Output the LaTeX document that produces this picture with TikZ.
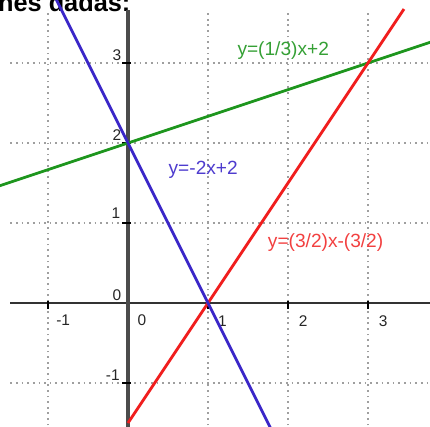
\documentclass[tikz,border=0pt]{standalone}
\usepackage{fontspec}
\setmainfont{Liberation Sans}
\usepackage[dvipsnames]{xcolor}
\definecolor{bleu}{RGB}{58,38,200}
\definecolor{vert}{RGB}{30,150,30}
\definecolor{rouge}{RGB}{240,30,30}
\tikzset{
  grille/.style={gray!75, line width=0.5pt, dash pattern=on 0.6pt off 1.4pt},
  graduation/.style={font=\fontsize{5.5}{6}\selectfont, text=black!85, inner sep=0pt},
  legende/.style={font=\fontsize{6.8}{7}\selectfont, inner sep=0pt},
  droite/.style={line width=1pt}
}

\begin{document}
\begin{tikzpicture}[x=1cm,y=1cm]
\useasboundingbox (-1.6,-1.54) rectangle (3.775,3.7875);
\clip (-1.6,-1.54) rectangle (3.775,3.7875);
%titre coupe en haut
\node[anchor=base west, font=\bfseries\fontsize{9}{9}\selectfont, inner sep=0pt] (titre) at (-1.63,3.64) {nes dadas:};

%quadrillage pointille
\foreach \x in {-1,1,2,3} \draw[grille] (\x,-1.6) -- (\x,3.66);
\foreach \y in {-1,1,2,3} \draw[grille] (-1.47,\y) -- (3.8,\y);

%axes
\draw[black!80, line width=0.6pt] (-1.47,0) -- (3.8,0);
\draw[black!70, line width=1.1pt] (0,-1.6) -- (0,3.66);

%graduations abscisse
\draw (-1,0.03) -- (-1,-0.07) node[graduation] (xm1) at (-0.81,-0.22) {-1};
\node[graduation] (x0) at (0.175,-0.21) {0};
\draw (1,0.03) -- (1,-0.07) node[graduation] (x1) at (1.18,-0.23) {1};
\draw (2,0.03) -- (2,-0.07) node[graduation] (x2) at (2.19,-0.23) {2};
\draw (3,0.03) -- (3,-0.07) node[graduation] (x3) at (3.19,-0.23) {3};
%graduations ordonnee
\draw[line width=0.8pt] (0.04,-1) -- (-0.07,-1) node[graduation] (ym1) at (-0.19,-0.9) {-1};
\node[graduation] (y0) at (-0.14,0.1) {0};
\draw[line width=0.8pt] (0.04,1) -- (-0.07,1) node[graduation] (y1) at (-0.15,1.12) {1};
\draw[line width=0.8pt] (0.04,2) -- (-0.07,2) node[graduation] (y2) at (-0.14,2.1) {2};
\draw[line width=0.8pt] (0.04,3) -- (-0.07,3) node[graduation] (y3) at (-0.14,3.1) {3};

%les trois droites
\coordinate (g1) at (-1.62,1.46);
\coordinate (g2) at (3.8,3.267);
\coordinate (b1) at (-0.9,3.8);
\coordinate (b2) at (1.78,-1.56);
\coordinate (r1) at (0,-1.5);
\coordinate (r2) at (3.45,3.675);
\draw[droite, vert] (g1) -- (g2);
\draw[droite, rouge] (r1) -- (r2);
\draw[droite, bleu] (b1) -- (b2);

%equations
\node[legende, text=vert!90!white] (eqv) at (1.94,3.16) {y=(1/3)x+2};
\node[legende, text=bleu!90!white] (eqb) at (0.94,1.66) {y=-2x+2};
\node[legende, text=rouge!85!white] (eqr) at (2.47,0.75) {y=(3/2)x-(3/2)};
\end{tikzpicture}
\end{document}
